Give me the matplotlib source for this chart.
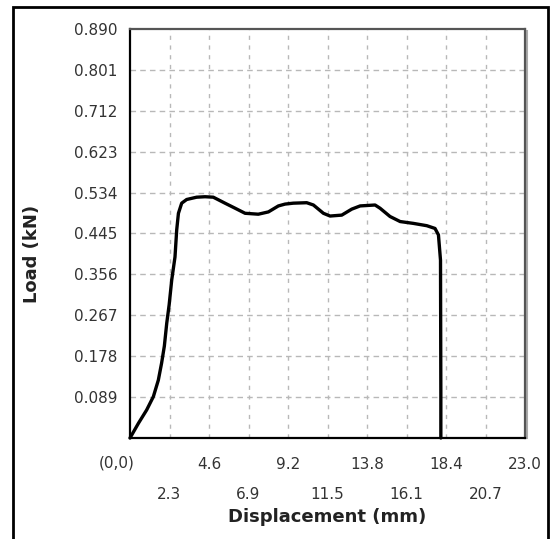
import matplotlib
matplotlib.use("Agg")
import matplotlib.pyplot as plt
from matplotlib.patches import Rectangle

# Data
disp = [0.0, 0.49, 0.97, 1.36, 1.65, 1.84, 2.00, 2.14, 2.28, 2.43, 2.62, 2.72, 2.82,
        3.01, 3.30, 3.88, 4.37, 4.85, 5.53, 6.12, 6.70, 7.47, 8.06, 8.64, 9.03,
        9.51, 10.29, 10.68, 11.26, 11.65, 12.33, 12.91, 13.40, 14.27, 14.56,
        15.14, 15.73, 16.50, 17.28, 17.76, 17.96, 18.08, 18.10, 18.10]
load = [0.0, 0.032, 0.061, 0.090, 0.126, 0.163, 0.200, 0.250, 0.290, 0.344, 0.394, 0.453, 0.489,
        0.511, 0.519, 0.524, 0.525, 0.524, 0.511, 0.500, 0.489, 0.487, 0.492, 0.505, 0.509,
        0.511, 0.512, 0.507, 0.489, 0.483, 0.485, 0.498, 0.505, 0.507, 0.500,
        0.482, 0.471, 0.467, 0.462, 0.456, 0.442, 0.387, 0.100, 0.0]

x_ticks_major = [0.0, 4.6, 9.2, 13.8, 18.4, 23.0]
x_labels_major = ["(0,0)", "4.6", "9.2", "13.8", "18.4", "23.0"]
x_ticks_minor = [2.3, 6.9, 11.5, 16.1, 20.7]
x_labels_minor = ["2.3", "6.9", "11.5", "16.1", "20.7"]
y_ticks = [0.089, 0.178, 0.267, 0.356, 0.445, 0.534, 0.623, 0.712, 0.801, 0.890]
y_labels = ["0.089", "0.178", "0.267", "0.356", "0.445", "0.534", "0.623", "0.712", "0.801", "0.890"]

W, H = 550, 539
fig = plt.figure(figsize=(W / 100, H / 100), dpi=100)
fig.patch.set_facecolor("white")

# outer frame
fig.patches.append(Rectangle((13 / W, -0.01), (548 - 13) / W, 1 - 7 / H + 0.01,
                             transform=fig.transFigure, fill=False,
                             edgecolor="black", linewidth=2.0))

ax = fig.add_axes([130 / W, 1 - 438 / H, (525 - 130) / W, (438 - 29) / H])
ax.set_xlim(0, 23.0)
ax.set_ylim(0, 0.890)

ax.plot(disp, load, color="black", linewidth=2.4, solid_joinstyle="round",
        solid_capstyle="round", zorder=3, clip_on=False)

# grid
for xv in x_ticks_major[1:-1] + x_ticks_minor:
    ax.axvline(xv, color="#b8b8b8", linewidth=1.0, linestyle=(0, (3, 4)), zorder=1)
for yv in y_ticks[:-1]:
    ax.axhline(yv, color="#b8b8b8", linewidth=1.0, linestyle=(0, (4, 3)), zorder=1)

ax.set_yticks(y_ticks)
ax.set_yticklabels(y_labels)
ax.set_xticks(x_ticks_major[1:])
ax.set_xticklabels(x_labels_major[1:])
ax.set_xticks(x_ticks_minor, minor=True)
ax.set_xticklabels(x_labels_minor, minor=True)

lab_color = "#333333"
fs = 11
ax.tick_params(axis="y", length=0, pad=9, labelsize=fs, labelcolor=lab_color)
ax.tick_params(axis="x", which="major", length=0, pad=14, labelsize=fs, labelcolor=lab_color)
ax.tick_params(axis="x", which="minor", length=0, pad=35, labelsize=fs, labelcolor=lab_color)

ax.annotate(x_labels_major[0], xy=(0, 0), xycoords="data", xytext=(3.6, -18),
            textcoords="offset points", ha="right", va="center",
            fontsize=fs, color=lab_color)

ax.set_xlabel("Displacement (mm)", fontsize=13, fontweight="bold", color="#222222")
ax.set_ylabel("Load (kN)", fontsize=13, fontweight="bold", color="#222222")
ax.xaxis.label.set_va("center")
ax.yaxis.label.set_va("center")
ax.yaxis.label.set_ha("center")
ax.xaxis.set_label_coords(0.5, -0.193)
ax.yaxis.set_label_coords(-0.249, 0.45)

for side in ["left", "bottom"]:
    ax.spines[side].set_color("black")
    ax.spines[side].set_linewidth(1.6)
for side in ["top", "right"]:
    ax.spines[side].set_color("#555555")
    ax.spines[side].set_linewidth(1.6)

# shadow on right edge
ax.plot([1.006, 1.006], [0.0, 0.995], transform=ax.transAxes, color="#aaaaaa",
        linewidth=1.5, clip_on=False, zorder=0)

fig.savefig("out.png", dpi=100, facecolor="white")
